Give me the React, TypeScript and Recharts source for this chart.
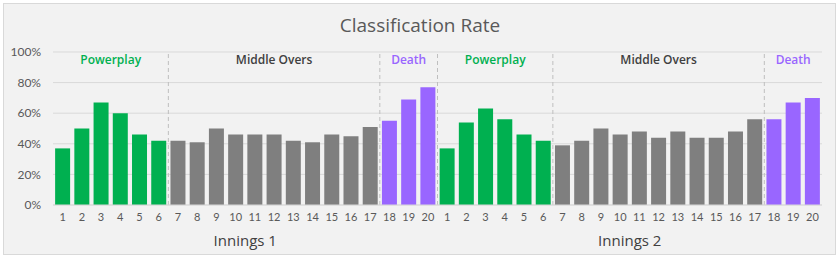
import React from 'react';
import {
  BarChart,
  Bar,
  Cell,
  XAxis,
  YAxis,
  CartesianGrid,
  ReferenceLine,
  ReferenceArea,
} from 'recharts';

const overs = [1, 2, 3, 4, 5, 6, 7, 8, 9, 10, 11, 12, 13, 14, 15, 16, 17, 18, 19, 20];
const innings1 = [37, 50, 67, 60, 46, 42, 42, 41, 50, 46, 46, 46, 42, 41, 46, 45, 51, 55, 69, 77];
const innings2 = [37, 54, 63, 56, 46, 42, 39, 42, 50, 46, 48, 44, 48, 44, 44, 48, 56, 56, 67, 70];
const inningsNames = ['Innings 1', 'Innings 2'];
const yTicks = [0, 20, 40, 60, 80, 100];

const phaseColors: Record<string, string> = {
  Powerplay: '#00b050',
  'Middle Overs': '#7f7f7f',
  Death: '#9966ff',
};
const labelColors: Record<string, string> = {
  Powerplay: '#00b050',
  'Middle Overs': '#404040',
  Death: '#9966ff',
};

const phaseOf = (over: number) =>
  over <= 6 ? 'Powerplay' : over <= 17 ? 'Middle Overs' : 'Death';

const data = [innings1, innings2].flatMap((vals, i) =>
  overs.map((o, j) => ({
    key: `${i + 1}-${o}`,
    over: o,
    innings: inningsNames[i],
    value: vals[j],
    phase: phaseOf(o),
  }))
);

const phases = [
  { name: 'Powerplay', from: 1, to: 6 },
  { name: 'Middle Overs', from: 7, to: 17 },
  { name: 'Death', from: 18, to: 20 },
];

const PhaseLabel = (props: any) => {
  const { viewBox, text } = props;
  if (!viewBox) return null;
  return (
    <text
      x={viewBox.x + viewBox.width / 2}
      y={viewBox.y + 12}
      textAnchor="middle"
      fill={labelColors[text]}
      fontFamily="Open Sans"
      fontWeight={600}
      fontSize={12}
    >
      {text}
    </text>
  );
};

const App = () => {
  return (
    <div
      style={{
        position: 'absolute',
        left: 0,
        top: 0,
        width: 840,
        height: 260,
        background: '#fff',
      }}
    >
      <div
        style={{
          position: 'absolute',
          left: 3,
          top: 3,
          width: 831,
          height: 250,
          border: '1px solid #d9d9d9',
          background: '#f2f2f2',
        }}
      />
      <div
        style={{
          position: 'absolute',
          left: 0,
          top: 12,
          width: 840,
          textAlign: 'center',
          fontFamily: 'Open Sans',
          fontSize: 19,
          color: '#595959',
          lineHeight: '26px',
        }}
      >
        Classification Rate
      </div>
      <div style={{ position: 'absolute', left: 0, top: 0 }}>
        <BarChart
          width={840}
          height={260}
          data={data}
          margin={{ top: 52, right: 18, left: 0, bottom: 0 }}
          barCategoryGap="11%"
        >
          <CartesianGrid vertical={false} stroke="#d9d9d9" />
          <XAxis
            dataKey="key"
            interval={0}
            tickLine={false}
            axisLine={{ stroke: '#d9d9d9' }}
            height={22}
            tickFormatter={(v: string) => v.split('-')[1]}
            tick={{ fontSize: 11, fill: '#595959', fontFamily: 'Lato' }}
          />
          <XAxis
            xAxisId="inn"
            dataKey="innings"
            allowDuplicatedCategory={false}
            tickLine={false}
            axisLine={false}
            height={33}
            tick={{ fontSize: 15, fill: '#404040', fontFamily: 'Open Sans' }}
          />
          <YAxis
            domain={[0, 100]}
            ticks={yTicks}
            tickFormatter={(v: number) => `${v}%`}
            axisLine={false}
            tickLine={false}
            width={53}
            tickMargin={6}
            tick={{ fontSize: 12, fill: '#595959', fontFamily: 'Lato' }}
          />
          {[1, 2].flatMap((inn) =>
            phases.map((p) => (
              <ReferenceArea
                key={`${inn}-${p.name}`}
                x1={`${inn}-${p.from}`}
                x2={`${inn}-${p.to}`}
                fill="none"
                fillOpacity={0}
                stroke="none"
                ifOverflow="visible"
                label={<PhaseLabel text={p.name} />}
              />
            ))
          )}
          {['1-7', '1-18', '2-1', '2-7', '2-18'].map((k) => (
            <ReferenceLine
              key={k}
              x={k}
              position="start"
              stroke="#bfbfbf"
              strokeDasharray="4 3"
            />
          ))}
          <Bar dataKey="value" isAnimationActive={false}>
            {data.map((d) => (
              <Cell key={d.key} fill={phaseColors[d.phase]} />
            ))}
          </Bar>
        </BarChart>
      </div>
    </div>
  );
};

export default App;
